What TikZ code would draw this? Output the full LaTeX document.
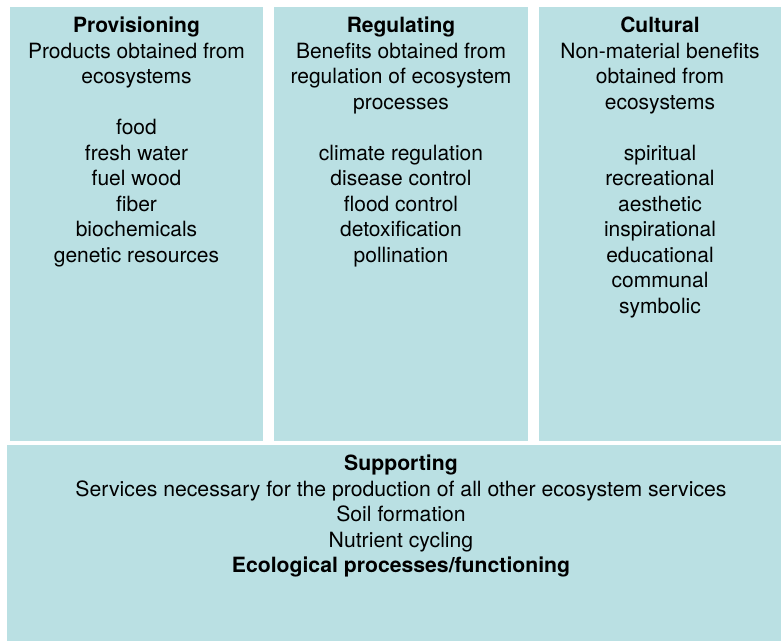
\documentclass[tikz,border=0pt]{standalone}
\usepackage{fontspec}
\setmainfont{TeX Gyre Heros}
\usetikzlibrary{positioning}

\definecolor{boxfill}{RGB}{186,224,227}

\begin{document}
\begin{tikzpicture}[x=1pt,y=-1pt,
    servicebox/.style={fill=boxfill},
    servicetext/.style={anchor=north,inner sep=0pt,align=center,
        font=\fontsize{21}{25.5}\selectfont}]

\useasboundingbox (0,0) rectangle (781,641);

% the four categories
\coordinate (P1) at (10,7);
\coordinate (P2) at (263,441);
\coordinate (R1) at (274,7);
\coordinate (R2) at (528,441);
\coordinate (C1) at (539,7);
\coordinate (C2) at (781,441);
\coordinate (S1) at (7,445);
\coordinate (S2) at (781,641);

\fill[servicebox] (P1) rectangle (P2);
\fill[servicebox] (R1) rectangle (R2);
\fill[servicebox] (C1) rectangle (C2);
\fill[servicebox] (S1) rectangle (S2);

\node[servicetext] (prov) at (136.5,14.6) {\strut\textbf{Provisioning}\\
    Products obtained from\\ ecosystems\\[25.5pt]
    food\\ fresh water\\ fuel wood\\ fiber\\ biochemicals\\ genetic resources};

\node[servicetext] (reg) at (401,14.6) {\strut\textbf{Regulating}\\
    Benefits obtained from\\ regulation of ecosystem\\ processes\\[25.5pt]
    climate regulation\\ disease control\\ flood control\\ detoxification\\ pollination};

\node[servicetext] (cult) at (660,14.6) {\strut\textbf{Cultural}\\
    Non-material benefits\\ obtained from\\ ecosystems\\[25.5pt]
    spiritual\\ recreational\\ aesthetic\\ inspirational\\ educational\\ communal\\ symbolic};

%\node supporting
\node[servicetext,xscale=1.01] (supp) at (401,452.6) {\strut\textbf{Supporting}\\
    Services necessary for the production of all other ecosystem services\\
    Soil formation\\ Nutrient cycling\\ \textbf{Ecological processes/functioning}};

\end{tikzpicture}
\end{document}
